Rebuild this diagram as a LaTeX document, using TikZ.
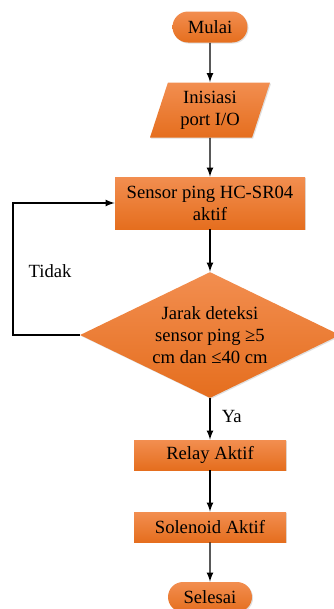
\documentclass[tikz,border=0pt]{standalone}
\usepackage{fontspec}
\setmainfont{Liberation Serif}
\usetikzlibrary{positioning,calc,shapes.geometric,shapes.misc,shadows}

\definecolor{oranyeAtas}{RGB}{242,142,80}
\definecolor{oranyeBawah}{RGB}{229,110,30}

\tikzset{
  blok/.style={top color=oranyeAtas, bottom color=oranyeBawah, draw=none,
    drop shadow={opacity=0.25, shadow xshift=0.6pt, shadow yshift=-0.6pt},
    font=\fontsize{10.6}{12.6}\selectfont, align=center, inner sep=0pt},
  proses/.style={blok, rectangle},
  terminal/.style={blok, rounded rectangle},
  masukan/.style={blok, trapezium, trapezium left angle=65, trapezium right angle=115,
    trapezium stretches body=true},
  keputusan/.style={blok, diamond, aspect=2},
  panah/.style={->, line width=0.8pt}
}

\begin{document}
\begin{tikzpicture}[>=latex]
            \useasboundingbox (0,0) rectangle (6.68,-12.18);

            \node[terminal, minimum width=1.5cm, minimum height=0.62cm] (mulai) at (4.2,-0.54) {Mulai};
            \node[masukan, minimum width=2.4cm, minimum height=1.1cm] (init) at (4.2,-2.2) {Inisiasi\\port I/O};
            \node[proses, minimum width=3.8cm, minimum height=1.04cm] (sensor) at (4.2,-4.06) {Sensor ping HC-SR04\\aktif};
            \node[keputusan, minimum width=5.2cm, minimum height=2.52cm] (cek) at (4.2,-6.7) {Jarak deteksi\\sensor ping ≥5\\cm dan ≤40 cm};
            \node[proses, minimum width=3.04cm, minimum height=0.6cm] (relay) at (4.2,-9.1) {Relay Aktif};
            \node[proses, minimum width=3.04cm, minimum height=0.6cm] (solenoid) at (4.2,-10.54) {Solenoid Aktif};
            \node[terminal, minimum width=1.68cm, minimum height=0.6cm] (selesai) at (4.2,-11.94) {Selesai};

            \coordinate (kiri) at (0.26,-6.66);

            \draw[panah] (mulai) -- (init);
            \draw[panah] (init) -- (sensor);
            \draw[panah] (sensor) -- (cek);
            \draw[panah] (cek) -- (relay) node[pos=0.45, right=3pt, font=\fontsize{10.6}{12.6}\selectfont] {Ya};
            \draw[panah] (relay) -- (solenoid);
            \draw[panah] (solenoid) -- (selesai);

            \draw[panah] (cek.west) -- (cek.west -| kiri) |- (sensor.west);
            \node[font=\fontsize{10.6}{12.6}\selectfont] (tidak) at (1.0,-5.42) {Tidak};
            \end{tikzpicture}
\end{document}
